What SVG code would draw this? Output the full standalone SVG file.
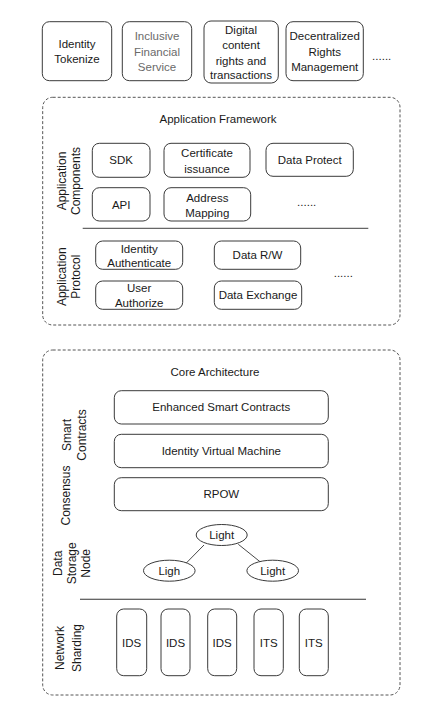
<svg xmlns="http://www.w3.org/2000/svg" width="432" height="714" viewBox="0 0 432 714">
<style>
text{font-family:"Liberation Sans",Arial,Helvetica,sans-serif;font-size:11.5px;fill:#1a1a1a;text-anchor:middle;dominant-baseline:central}
.lab{font-size:12px}
.box{fill:#fff;stroke:#3a3a3a;stroke-width:1}
.dash{fill:none;stroke:#555;stroke-width:1;stroke-dasharray:3,2}
.sep{stroke:#666;stroke-width:1.3}
.conn{stroke:#333;stroke-width:0.9;fill:none}
.grey{fill:#6a6a6a}
</style>
<rect width="432" height="714" fill="#fff"/>

<g id="top-identity-tokenize"><rect class="box" x="42.3" y="21.7" width="69.4" height="59" rx="7"/><text x="77" y="43.7">Identity</text><text x="77" y="59.3">Tokenize</text></g>
<g id="top-inclusive"><rect class="box" x="122.3" y="21.7" width="69.4" height="59" rx="7"/><text class="grey" x="157" y="36">Inclusive</text><text class="grey" x="157" y="52">Financial</text><text class="grey" x="157" y="67">Service</text></g>
<g id="top-digital"><rect class="box" x="204" y="21" width="74.3" height="62" rx="7"/><text x="241" y="30">Digital</text><text x="241" y="45">content</text><text x="241" y="61">rights and</text><text x="241" y="75">transactions</text></g>
<g id="top-decentralized"><rect class="box" x="286" y="21.7" width="77.3" height="59" rx="7"/><text x="324.7" y="36">Decentralized</text><text x="324.7" y="52">Rights</text><text x="324.7" y="67">Management</text></g>
<g id="top-more"><text x="381.7" y="56">......</text></g>

<g id="application-framework"><rect class="dash" x="42.7" y="97.3" width="357.3" height="227.7" rx="10"/><text x="218" y="119.3">Application Framework</text></g>
<g id="label-app-components"><text class="lab" transform="translate(61.5,181) rotate(-90)">Application</text><text class="lab" transform="translate(75.5,181) rotate(-90)">Components</text></g>
<g id="sdk"><rect class="box" x="92.3" y="143.3" width="57.7" height="34" rx="7"/><text x="121.2" y="160.3">SDK</text></g>
<g id="certificate"><rect class="box" x="164" y="143.3" width="86" height="34" rx="7"/><text x="207" y="153">Certificate</text><text x="207" y="168.5">issuance</text></g>
<g id="data-protect"><rect class="box" x="266" y="143.3" width="87.3" height="33" rx="7"/><text x="309.7" y="160">Data Protect</text></g>
<g id="api"><rect class="box" x="92.3" y="187.7" width="57.7" height="33.3" rx="7"/><text x="121.2" y="204.5">API</text></g>
<g id="address-mapping"><rect class="box" x="164" y="187.7" width="86.7" height="33.3" rx="7"/><text x="207.3" y="197.5">Address</text><text x="207.3" y="213">Mapping</text></g>
<g id="components-more"><text x="306.7" y="202">......</text></g>

<g id="label-app-protocol"><text class="lab" transform="translate(61.5,276.7) rotate(-90)">Application</text><text class="lab" transform="translate(75.5,276.7) rotate(-90)">Protocol</text></g>
<g id="identity-authenticate"><rect class="box" x="95.7" y="241" width="87" height="28.3" rx="7"/><text x="139.2" y="248.5">Identity</text><text x="139.2" y="263">Authenticate</text></g>
<g id="data-rw"><rect class="box" x="214.3" y="241" width="86.4" height="28.3" rx="7"/><text x="257.5" y="255.2">Data R/W</text></g>
<g id="user-authorize"><rect class="box" x="95.7" y="281" width="87" height="28.3" rx="7"/><text x="139.2" y="288">User</text><text x="139.2" y="303">Authorize</text></g>
<g id="data-exchange"><rect class="box" x="214.3" y="281" width="87.4" height="28.3" rx="7"/><text x="258" y="295.2">Data Exchange</text></g>
<g id="protocol-more"><text x="343.3" y="272.5">......</text></g>

<g id="core-architecture"><rect class="dash" x="42.7" y="350" width="357.3" height="345" rx="10"/><text x="215" y="372.3">Core Architecture</text></g>
<g id="label-smart-contracts"><text class="lab" transform="translate(67.3,435) rotate(-90)">Smart</text><text class="lab" transform="translate(82.2,435) rotate(-90)">Contracts</text></g>
<g id="enhanced-smart-contracts"><rect class="box" x="114.3" y="390.7" width="214" height="33.3" rx="7"/><text x="221.3" y="407.3">Enhanced Smart Contracts</text></g>
<g id="identity-vm"><rect class="box" x="114.3" y="434.3" width="214" height="33.4" rx="7"/><text x="221.3" y="451">Identity Virtual Machine</text></g>
<g id="label-consensus"><text class="lab" transform="translate(66,495.5) rotate(-90)">Consensus</text></g>
<g id="rpow"><rect class="box" x="114.3" y="477.7" width="214" height="33" rx="7"/><text x="221.3" y="494.2">RPOW</text></g>

<g id="label-data-storage"><text class="lab" transform="translate(58.3,563.3) rotate(-90)">Data</text><text class="lab" transform="translate(72.3,563.3) rotate(-90)">Storage</text><text class="lab" transform="translate(86,563.3) rotate(-90)">Node</text></g>
<g id="connectors">
<line class="conn" x1="204" y1="545" x2="186" y2="563.3"/>
<line class="conn" x1="238.3" y1="544.3" x2="260" y2="561.7"/>
</g>
<g id="light-top"><ellipse class="box" cx="221.7" cy="535" rx="25.5" ry="10.5"/><text x="221.7" y="535">Light</text></g>
<g id="ligh-left"><ellipse class="box" cx="169.3" cy="570.7" rx="25.8" ry="10.5"/><text x="169.3" y="571">Ligh</text></g>
<g id="light-right"><ellipse class="box" cx="272.7" cy="570.7" rx="25.8" ry="10.5"/><text x="272.7" y="571">Light</text></g>

<line class="sep" x1="82.7" y1="228.3" x2="368.3" y2="228.3"/>
<line class="sep" x1="80" y1="599.3" x2="366" y2="599.3" style="stroke:#333;stroke-width:1.1"/>

<g id="label-network-sharding"><text class="lab" transform="translate(60,648) rotate(-90)">Network</text><text class="lab" transform="translate(76.7,648) rotate(-90)">Sharding</text></g>
<g id="ids-1"><rect class="box" x="116.7" y="609" width="30" height="66.7" rx="7"/><text x="131.7" y="643.3">IDS</text></g>
<g id="ids-2"><rect class="box" x="161" y="609" width="29" height="66.7" rx="7"/><text x="175.5" y="643.3">IDS</text></g>
<g id="ids-3"><rect class="box" x="207.7" y="609" width="29" height="66.7" rx="7"/><text x="222.2" y="643.3">IDS</text></g>
<g id="its-1"><rect class="box" x="254" y="609" width="29.3" height="66.7" rx="7"/><text x="268.7" y="643.3">ITS</text></g>
<g id="its-2"><rect class="box" x="299.3" y="609" width="29" height="66.7" rx="7"/><text x="313.8" y="643.3">ITS</text></g>
</svg>
